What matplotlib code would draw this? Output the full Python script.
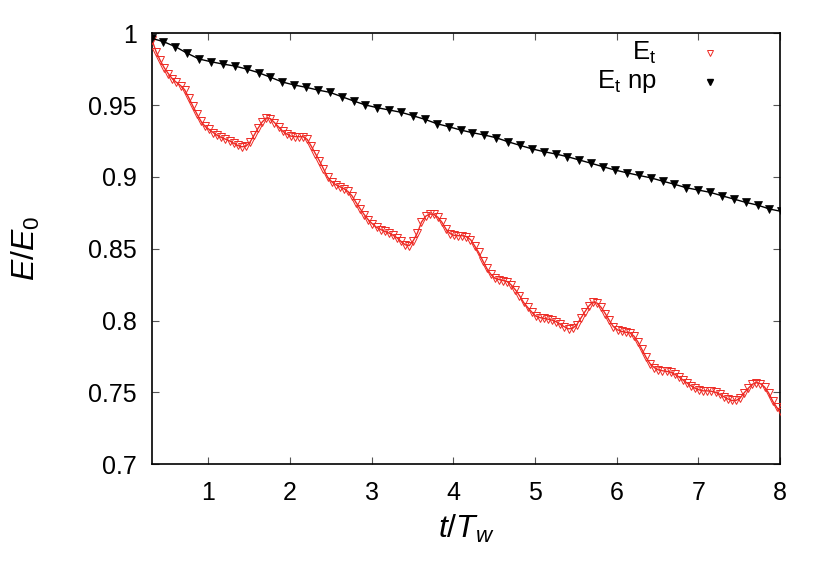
import matplotlib

matplotlib.use("Agg")
import matplotlib.pyplot as plt
import numpy as np

plt.rcParams["font.family"] = ["Liberation Sans", "DejaVu Sans"]
plt.rcParams["mathtext.fontset"] = "custom"
plt.rcParams["mathtext.rm"] = "Liberation Sans"
plt.rcParams["mathtext.it"] = "Liberation Sans:italic"

# Energia total (con oscilacion), muestreada cada 0.05 desde t=0.31
t_red_start = 0.31
t_red_step = 0.05
e_total = [
    0.9953, 0.9873, 0.9812, 0.9760, 0.9719, 0.9683, 0.9658, 0.9636, 0.9607, 0.9552,
    0.9494, 0.9439, 0.9388, 0.9352, 0.9331, 0.9309, 0.9289, 0.9275, 0.9263, 0.9251,
    0.9235, 0.9219, 0.9210, 0.9214, 0.9242, 0.9290, 0.9340, 0.9383, 0.9411, 0.9406,
    0.9378, 0.9348, 0.9319, 0.9299, 0.9284, 0.9281, 0.9280, 0.9280, 0.9262, 0.9215,
    0.9163, 0.9113, 0.9056, 0.8999, 0.8967, 0.8946, 0.8932, 0.8918, 0.8899, 0.8868,
    0.8821, 0.8778, 0.8737, 0.8701, 0.8673, 0.8649, 0.8634, 0.8621, 0.8610, 0.8595,
    0.8577, 0.8551, 0.8528, 0.8522, 0.8557, 0.8610, 0.8686, 0.8726, 0.8742, 0.8739,
    0.8720, 0.8685, 0.8637, 0.8606, 0.8593, 0.8591, 0.8591, 0.8585, 0.8564, 0.8521,
    0.8475, 0.8417, 0.8363, 0.8322, 0.8294, 0.8286, 0.8279, 0.8272, 0.8248, 0.8214,
    0.8174, 0.8127, 0.8092, 0.8060, 0.8031, 0.8021, 0.8015, 0.8010, 0.8003, 0.7992,
    0.7974, 0.7957, 0.7943, 0.7946, 0.7971, 0.8016, 0.8061, 0.8102, 0.8130, 0.8122,
    0.8092, 0.8049, 0.8001, 0.7958, 0.7936, 0.7925, 0.7919, 0.7915, 0.7893, 0.7852,
    0.7799, 0.7744, 0.7699, 0.7673, 0.7657, 0.7651, 0.7647, 0.7641, 0.7627, 0.7609,
    0.7587, 0.7566, 0.7546, 0.7529, 0.7518, 0.7511, 0.7511, 0.7508, 0.7501, 0.7488,
    0.7471, 0.7455, 0.7444, 0.7444, 0.7460, 0.7497, 0.7528, 0.7557, 0.7568, 0.7561,
    0.7538, 0.7497, 0.7440, 0.7396, 0.7363,
]

# Energia total sin perturbacion (np)
t_np_start = 0.305
t_np_step = 0.1455
e_total_np = [
    0.9965, 0.9942, 0.9907, 0.9861, 0.9821, 0.9802, 0.9786, 0.9772, 0.9751, 0.9726,
    0.9694, 0.9661, 0.9640, 0.9624, 0.9605, 0.9589, 0.9559, 0.9529, 0.9501, 0.9482,
    0.9466, 0.9450, 0.9426, 0.9401, 0.9371, 0.9350, 0.9327, 0.9308, 0.9292, 0.9273,
    0.9245, 0.9220, 0.9196, 0.9176, 0.9160, 0.9141, 0.9118, 0.9095, 0.9071, 0.9048,
    0.9029, 0.9011, 0.8994, 0.8971, 0.8949, 0.8925, 0.8909, 0.8893, 0.8869, 0.8846,
    0.8823, 0.8804, 0.8777, 0.8760,
]

x_ticks = [1, 2, 3, 4, 5, 6, 7, 8]
y_ticks = [0.7, 0.75, 0.8, 0.85, 0.9, 0.95, 1.0]
y_tick_labels = ["0.7", "0.75", "0.8", "0.85", "0.9", "0.95", "1"]

ROJO = "#ee2a24"

t_red = t_red_start + t_red_step * np.arange(len(e_total))
t_np = t_np_start + t_np_step * np.arange(len(e_total_np))

fig = plt.figure(figsize=(8.3, 5.81), dpi=100)
ax = fig.add_axes([0.1831, 0.2009, 0.7567, 0.7418])

ax.plot(t_red, e_total, color=ROJO, lw=1.0, marker="v", ms=5.2,
        mfc="none", mec=ROJO, mew=0.7, zorder=3)
ax.plot(t_np, e_total_np, color="black", lw=1.0, marker="v", ms=5.7,
        mfc="black", mec="black", mew=0.5, zorder=4)

ax.set_xlim(0.31, 8)
ax.set_ylim(0.7, 1.0)
ax.set_xticks(x_ticks)
ax.set_xticklabels([str(v) for v in x_ticks])
ax.set_yticks(y_ticks)
ax.set_yticklabels(y_tick_labels)
ax.tick_params(direction="in", length=5, width=0.8, color="#555555",
               top=True, right=True, labelsize=18)
ax.tick_params(axis="x", pad=12)
ax.tick_params(axis="y", pad=11)
for spine in ax.spines.values():
    spine.set_linewidth(1.2)

ax.set_xlabel(r"$t/T_w$", fontsize=23, labelpad=6)
ax.set_ylabel(r"$E/E_0$", fontsize=23, labelpad=33)

# leyenda al estilo gnuplot: texto alineado a la derecha y solo el simbolo
ax.text(0.8037, 0.938, r"E$_\mathrm{t}$", transform=ax.transAxes,
        ha="right", va="baseline", fontsize=18.5)
ax.text(0.8037, 0.872, r"E$_\mathrm{t}$ np", transform=ax.transAxes,
        ha="right", va="baseline", fontsize=18.5)
ax.plot([0.8885], [0.9536], transform=ax.transAxes, marker="v", ms=4.5,
        mfc="none", mec=ROJO, mew=0.7, clip_on=False)
ax.plot([0.8885], [0.8877], transform=ax.transAxes, marker="v", ms=4.5,
        mfc="black", mec="black", clip_on=False)

fig.savefig("out.png", dpi=100)
plt.close(fig)
